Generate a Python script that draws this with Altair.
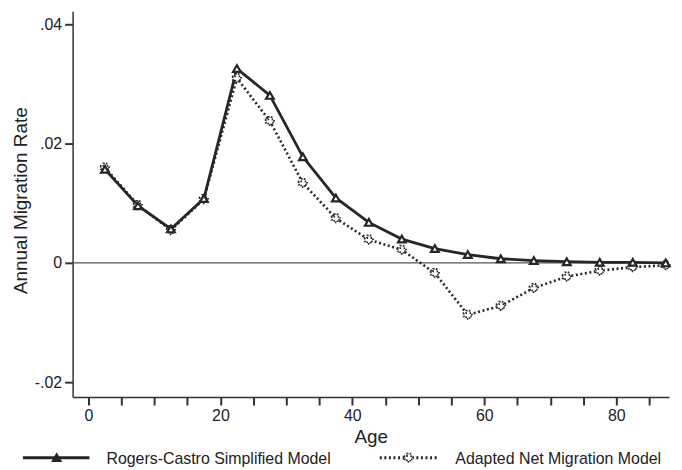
import altair as alt
import pandas as pd

# ---- data ----
ages = [2.5, 7.5, 12.5, 17.5, 22.5, 27.5, 32.5, 37.5, 42.5, 47.5,
        52.5, 57.5, 62.5, 67.5, 72.5, 77.5, 82.5, 87.5]
rogers_castro = [0.0157, 0.0096, 0.0057, 0.0108, 0.0326, 0.0281, 0.0178, 0.0109, 0.0068, 0.0040,
                 0.0024, 0.0014, 0.0007, 0.0004, 0.0002, 0.0001, 0.0001, 0.0000]
adapted_net = [0.0160, 0.0097, 0.0055, 0.0107, 0.0310, 0.0238, 0.0134, 0.0075, 0.0039, 0.0022,
               -0.0017, -0.0087, -0.0072, -0.0042, -0.0023, -0.0013, -0.0007, -0.0004]
series_names = ["Rogers-Castro Simplified Model", "Adapted Net Migration Model"]
x_ticks = list(range(0, 90, 5))
y_ticks = [-0.02, 0, 0.02, 0.04]

FONT = "Liberation Sans"
INK = "#262626"

df_rc = pd.DataFrame({"Age": ages, "Rate": rogers_castro})
df_an = pd.DataFrame({"Age": ages, "Rate": adapted_net})
df_zero = pd.DataFrame({"Rate": [0]})

xscale = alt.Scale(domain=[-2.4, 88], nice=False, zero=False)
yscale = alt.Scale(domain=[-0.0225, 0.0422], nice=False, zero=False)

xaxis = alt.Axis(values=x_ticks, labelExpr="datum.value % 20 == 0 ? datum.value : ''",
                 title="Age", titleFontSize=19, titleFont=FONT, titleFontWeight="normal",
                 titleBaseline="alphabetic", titleY=46, titleColor="#222")
yaxis = alt.Axis(values=y_ticks,
                 labelExpr="datum.value == 0 ? '0' : (datum.value < 0 ? '-' : '') + '.' + format(abs(datum.value) * 100, '02d')",
                 title="Annual Migration Rate", titleFontSize=19, titleFont=FONT, titleFontWeight="normal",
                 titleX=-42, titleY=190, titleBaseline="bottom", titleColor="#222")

x_enc = alt.X("Age:Q", scale=xscale, axis=xaxis)
y_enc = alt.Y("Rate:Q", scale=yscale, axis=yaxis)

zero = alt.Chart(df_zero).mark_rule(color="#555", strokeWidth=1.2).encode(
    y=alt.Y("Rate:Q", scale=yscale))

rc_line = alt.Chart(df_rc).mark_line(color=INK, strokeWidth=2.8).encode(x=x_enc, y=y_enc)
rc_pts = alt.Chart(df_rc).mark_point(shape="triangle-up", filled=True, fill="white", stroke=INK,
                                     strokeWidth=2.2, size=60, opacity=1).encode(x=x_enc, y=y_enc)

an_line = alt.Chart(df_an).mark_line(color=INK, strokeWidth=2.6, strokeDash=[2, 2.6]).encode(x=x_enc, y=y_enc)
an_pts = alt.Chart(df_an).mark_point(shape="cross", filled=True, fill="white", stroke=INK,
                                     strokeWidth=1.8, strokeDash=[1.5, 1.5], size=70, opacity=1).encode(x=x_enc, y=y_enc)

# ---- legend at bottom (drawn manually) ----
leg_y = 449
df_leg1 = pd.DataFrame({"label": [series_names[0]]})
df_leg2 = pd.DataFrame({"label": [series_names[1]]})

leg1_line = alt.Chart(df_leg1).mark_rule(color=INK, strokeWidth=3).encode(
    x=alt.value(-50), x2=alt.value(17), y=alt.value(leg_y))
leg1_pt = alt.Chart(df_leg1).mark_point(shape="triangle-up", filled=True, fill=INK, stroke=INK,
                                        size=60, opacity=1).encode(x=alt.value(-16), y=alt.value(leg_y))
leg1_txt = alt.Chart(df_leg1).mark_text(align="left", baseline="middle", font=FONT, fontSize=16,
                                        color="#222").encode(text="label:N", x=alt.value(34), y=alt.value(leg_y + 1))

leg2_line = alt.Chart(df_leg2).mark_rule(color=INK, strokeWidth=3, strokeDash=[2, 2.6]).encode(
    x=alt.value(309), x2=alt.value(367), y=alt.value(leg_y))
leg2_pt = alt.Chart(df_leg2).mark_point(shape="cross", filled=True, fill="white", stroke=INK,
                                        strokeWidth=1.8, strokeDash=[1.5, 1.5], size=70,
                                        opacity=1).encode(x=alt.value(338), y=alt.value(leg_y))
leg2_txt = alt.Chart(df_leg2).mark_text(align="left", baseline="middle", font=FONT, fontSize=16,
                                        color="#222").encode(text="label:N", x=alt.value(385), y=alt.value(leg_y + 1))

chart = alt.layer(
    zero, an_line, rc_line, an_pts, rc_pts,
    leg1_line, leg1_pt, leg1_txt, leg2_line, leg2_pt, leg2_txt
).properties(
    width=600, height=388,
    autosize=alt.AutoSizeParams(type="none"),
    padding={"left": 65, "top": 2, "right": 5, "bottom": 72},
    background="white",
).configure_view(stroke=None).configure_axis(
    grid=False, domainColor="#333", domainWidth=1.5, tickColor="#333", tickWidth=2, tickSize=8,
    labelFont=FONT, labelFontSize=16, labelColor="#222", labelPadding=3,
)

chart.save("out.html", embed_options={"renderer": "svg", "actions": False})
